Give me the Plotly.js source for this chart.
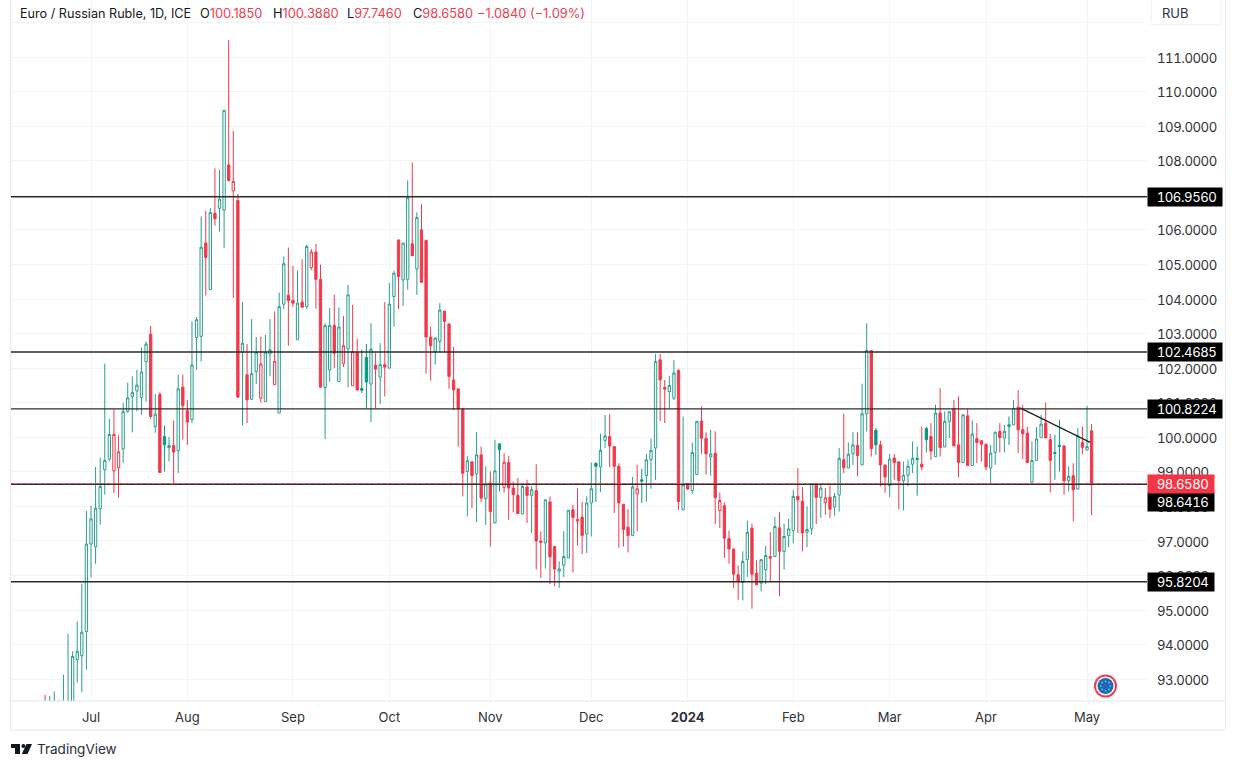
<!DOCTYPE html>
<html>
<head>
<meta charset="utf-8">
<script src="https://cdn.plot.ly/plotly-3.0.1.min.js"></script>
<style>html,body{margin:0;padding:0;background:#fff;overflow:hidden}#chart{width:1236px;height:768px}
.ytick text{font-feature-settings:"tnum" 1;letter-spacing:-0.45px}
.annotation[data-index="8"] text,.annotation[data-index="9"] text,.annotation[data-index="10"] text,.annotation[data-index="11"] text,.annotation[data-index="12"] text,.annotation[data-index="13"] text{font-feature-settings:"tnum" 1;letter-spacing:-0.45px}
</style>
</head>
<body>
<div id="chart"></div>
<script>
// r = filled red, g = hollow green, h = hollow red, f = filled green
const barStyle = ('rggggggggg'+'ggggghhggg'+'gggrgrfgrg'+'rrgggrgrgg'+'rhrgrgghgg'+'hggrrgrghr'+'rggrghghrf'+'fgrgrggrgg'+
  'rgrrrggrrr'+'rrgrgrgrgf'+'hrrrgrgrrg'+'rrgggrhrgg'+'fggrrrrrgh'+'fgggrrggrg'+'rggrrgrhrr'+'rrggrrgghg'+
  'rgggrrggrg'+'hrggrggrgg'+'rfrrgrrggg'+'frfrgrggrr'+'grgrrrggrg'+'fgrrrgggrr'+'ffrgrgrgr').split('');
const highs = [
92.55,92.52,92.65,92.40,93.13,94.32,93.81,94.67,95.76,97.87,
98.02,99.14,99.41,102.13,100.53,100.80,100.07,100.99,101.58,101.76,
101.95,102.59,102.77,103.22,101.26,101.30,100.34,100.01,100.49,101.81,
101.81,101.08,103.35,103.48,106.39,106.56,106.63,107.78,107.74,109.46,
111.49,108.86,107.04,103.91,102.70,103.42,102.90,102.91,102.96,103.42,
103.64,104.19,105.23,105.49,104.96,104.82,105.15,105.57,105.45,105.59,
104.99,103.30,103.74,104.12,103.76,103.51,104.41,103.83,102.85,102.53,
102.70,103.30,102.44,102.72,103.91,104.46,104.82,105.71,105.62,107.43,
107.95,106.51,106.75,105.72,103.20,102.90,103.88,103.65,103.28,102.61,
101.40,100.82,99.45,99.29,100.15,99.73,99.16,99.01,99.93,99.81,
99.54,99.46,98.72,98.82,98.66,98.77,98.58,99.22,97.28,98.19,
98.29,96.84,96.41,97.28,97.89,98.05,98.53,98.13,98.29,99.27,
99.27,100.10,100.65,100.67,99.73,99.25,98.06,97.92,98.85,99.20,
99.09,99.52,99.96,102.41,102.41,101.66,101.78,102.24,101.97,100.60,
98.66,99.85,100.46,100.89,100.14,100.22,100.17,98.40,98.11,97.30,
96.77,96.29,96.70,97.59,97.50,96.44,96.46,96.86,97.26,97.69,
97.83,97.50,97.64,98.48,99.11,98.56,98.00,98.66,98.65,98.65,
98.53,98.60,98.39,99.69,100.68,99.85,100.15,100.14,101.55,103.30,
102.51,100.27,99.90,99.20,99.52,99.52,99.29,99.30,99.35,99.88,
99.73,100.31,100.31,100.41,100.94,101.42,100.75,100.74,101.08,101.18,
100.65,100.82,100.49,100.41,99.90,99.80,99.78,100.15,100.41,100.36,
100.60,101.08,101.37,100.94,100.31,99.88,100.29,100.65,101.01,100.10,
100.07,100.51,99.75,99.16,99.25,100.27,100.31,100.91,100.388];
const bodyTop = [
92.30,92.25,92.30,92.30,92.30,92.30,93.66,93.81,94.36,96.91,
97.64,97.95,98.58,99.33,100.08,100.08,99.58,100.74,101.14,101.30,
101.51,101.89,102.70,102.98,100.67,101.24,100.02,99.76,99.76,101.40,
101.45,100.77,102.09,103.40,105.50,105.62,106.50,106.48,106.89,109.46,
107.88,107.40,106.85,102.72,101.81,101.84,102.46,102.12,102.46,102.53,
102.20,103.78,105.02,104.11,103.96,103.88,103.91,105.52,105.36,105.36,
104.57,103.23,103.23,103.23,103.19,102.65,104.12,102.48,102.46,101.41,
102.31,102.55,102.09,102.10,102.10,103.85,104.75,105.71,105.62,106.93,
105.60,106.36,106.00,105.69,102.90,102.87,103.68,103.65,103.28,101.66,
101.40,100.82,99.32,99.29,99.49,99.49,98.65,98.68,99.03,99.81,
99.28,99.27,98.53,98.32,98.58,98.56,98.48,98.46,97.00,98.19,
98.13,96.84,96.19,96.55,97.89,97.90,97.63,97.69,98.10,98.51,
99.25,99.62,100.04,100.02,99.73,99.16,98.06,97.40,98.56,98.51,
98.77,99.35,99.62,102.19,102.24,101.44,101.50,101.86,101.93,98.63,
98.66,99.56,100.46,100.47,99.97,99.52,99.54,98.17,98.02,97.07,
96.77,96.02,96.41,97.25,97.37,96.07,96.46,96.58,96.55,97.42,
97.38,97.13,97.35,98.29,98.29,98.15,97.33,98.66,98.65,98.53,
98.25,98.26,98.29,99.39,99.35,99.51,99.78,99.77,100.68,102.51,
102.51,100.20,99.78,99.20,99.37,99.40,99.29,98.90,99.16,99.39,
99.39,99.22,100.25,100.02,100.70,100.70,100.46,100.74,100.83,99.78,
100.65,100.62,100.09,99.96,99.90,99.80,99.54,100.15,100.17,100.17,
100.36,100.84,100.87,100.22,100.12,99.33,99.95,100.38,100.41,99.93,
99.56,99.77,99.75,98.87,98.89,100.04,99.85,99.73,100.185];
const bodyBottom = [
92.10,92.10,92.10,92.15,92.10,92.10,92.20,93.57,93.68,94.38,
96.91,96.83,97.93,99.06,99.37,99.03,99.12,99.66,100.75,101.18,
101.34,101.15,102.19,100.60,100.31,98.98,99.78,99.70,99.57,99.61,
100.91,100.44,100.51,102.89,102.92,105.20,104.27,106.32,106.62,106.57,
107.42,107.13,101.16,102.46,101.08,101.10,101.90,101.13,101.03,102.41,
101.52,100.70,103.85,103.95,103.88,102.82,103.76,103.78,104.91,104.57,
101.45,101.44,101.95,102.43,101.61,102.13,102.56,101.49,101.37,101.36,
101.60,101.54,101.97,101.74,102.03,102.00,104.07,104.65,104.55,104.57,
105.25,104.87,104.48,102.90,102.65,102.47,102.77,103.35,101.76,101.37,
100.82,98.96,99.01,98.89,98.94,98.24,98.22,97.85,97.52,99.64,
98.55,98.53,98.34,97.79,97.78,98.32,98.32,97.00,96.96,96.94,
96.54,96.19,96.13,96.30,96.51,97.68,97.57,97.16,97.20,98.10,
99.16,99.14,99.91,99.75,99.16,98.10,97.33,97.16,97.16,98.36,
98.73,98.89,99.35,99.69,101.66,101.39,101.32,101.13,98.14,97.90,
98.50,98.46,98.92,99.97,99.52,99.43,98.25,97.88,97.08,96.77,
96.04,95.81,95.80,96.46,96.04,95.73,95.78,96.17,96.50,96.55,
96.70,96.70,97.16,97.30,98.19,97.23,97.25,97.35,98.26,98.26,
98.11,97.92,97.98,98.33,99.12,99.11,99.52,99.47,99.20,100.68,
99.67,99.78,99.20,98.85,98.60,99.27,98.75,98.74,98.90,99.22,
99.36,99.14,99.93,99.60,99.44,99.70,99.72,100.46,99.75,99.27,
99.27,99.18,99.18,99.85,99.80,99.14,99.11,99.56,99.99,99.98,
100.32,100.36,100.22,100.10,99.27,98.70,99.33,99.99,99.98,99.33,
99.53,99.74,98.74,98.74,98.48,98.50,99.71,99.63,98.658];
const lows = [
92.00,92.00,92.00,92.00,92.00,92.00,92.00,92.90,92.62,93.28,
95.94,96.34,97.47,98.34,99.30,98.39,98.25,99.26,100.70,100.14,
100.75,100.65,101.03,100.53,100.13,98.98,99.01,99.30,98.66,98.96,
99.93,99.78,100.41,101.95,102.19,104.10,104.27,106.12,105.95,105.47,
107.42,104.03,101.16,100.34,100.41,101.08,101.54,101.00,101.03,101.76,
101.52,100.70,103.71,102.65,103.78,102.82,103.76,103.71,104.84,103.72,
101.45,99.95,101.60,102.00,101.61,102.03,101.45,101.49,101.35,101.28,
100.84,100.43,100.84,100.96,101.18,102.00,103.20,103.71,103.80,104.27,
105.25,104.12,104.48,101.84,101.64,102.10,102.46,102.46,101.40,100.78,
99.73,98.29,97.71,97.95,97.54,98.13,97.46,96.84,97.52,98.43,
98.40,97.61,97.83,97.79,97.78,97.52,97.23,96.17,95.93,96.20,
95.75,95.69,95.64,95.95,96.51,96.09,96.87,96.62,96.65,97.13,
98.13,98.42,99.69,99.14,97.81,96.80,96.84,96.67,97.16,97.28,
98.10,98.14,98.51,98.77,100.46,100.41,100.84,101.08,97.90,97.90,
98.50,98.37,98.92,99.52,98.92,98.89,97.49,97.37,96.51,96.34,
95.64,95.30,95.28,95.96,95.04,95.73,95.54,95.75,95.81,96.55,
95.40,96.17,96.82,96.94,97.23,96.70,96.82,97.18,97.49,97.66,
97.76,97.66,97.73,97.85,98.96,99.11,99.20,98.87,99.20,100.17,
99.44,99.49,98.58,98.39,98.27,98.77,97.92,97.88,98.58,98.96,
98.31,99.04,99.56,99.35,99.44,99.44,99.72,99.98,99.75,98.84,
99.27,99.18,99.18,99.25,99.30,99.04,98.66,99.20,99.56,99.56,
99.78,100.36,99.54,99.37,99.27,98.70,99.33,99.99,99.98,98.40,
98.77,99.01,98.34,98.43,97.57,98.50,99.51,99.63,97.746];

const monthTickBars = [0,21,44,65,87,109,130,153,174,195,217];
const monthTickLabels = ['Jul','Aug','Sep','Oct','Nov','Dec','<b>2024</b>','Feb','Mar','Apr','May'];
const priceTicks = [93,94,95,96,97,98,99,100,101,102,103,104,105,106,107,108,109,110,111,112];
const levelPrices = [106.956,102.4685,100.8224,95.8204,98.6416];
const levelLabels = ['106.9560','102.4685','100.8224','95.8204','98.6416'];
const lastPrice = 98.658;
const lastPriceLabel = '98.6580';
const trendBars = [202.4,217.7];
const trendPrices = [100.85,99.85];
const headerTitle = 'Euro / Russian Ruble, 1D, ICE';
const headerLetters = ['O','H','L','C',''];
const headerValues = ['100.1850','100.3880','97.7460','98.6580','\u22121.0840 (\u22121.09%)'];

const GREEN='#2b9e8e', GREENFILL='#089981', RED='#ee3a4c';
const FONT='Inter, "Noto Sans", sans-serif';
const INK='#2f3238';

// first plotted bar sits ten sessions before the July tick
const barNo = barStyle.map((_,i)=>i-10);
function pick(keys){
  const idx = barStyle.map((s,i)=>keys.includes(s)?i:-1).filter(i=>i>=0);
  const hollow = i=>barStyle[i]==='g'||barStyle[i]==='h';
  return {
    x: idx.map(i=>barNo[i]),
    open: idx.map(i=>hollow(i)?bodyBottom[i]:bodyTop[i]),
    close: idx.map(i=>hollow(i)?bodyTop[i]:bodyBottom[i]),
    high: idx.map(i=>highs[i]),
    low: idx.map(i=>lows[i])
  };
}
function candle(keys,col,fill){
  return Object.assign(pick(keys),{
    type:'candlestick', hoverinfo:'skip', showlegend:false, whiskerwidth:0, line:{width:1},
    increasing:{line:{color:col,width:1},fillcolor:'#ffffff'},
    decreasing:{line:{color:fill,width:1},fillcolor:fill}
  });
}
const traces=[candle(['g','f'],GREEN,GREENFILL),candle(['r','h'],RED,RED)];

// pixel helpers for the page furniture around the plot
const L=11,R=1147,B=701;
const fx=p=>(p-L)/(R-L), fy=p=>(B-p)/B;
const hline=(x0,x1,y,c,w)=>({type:'line',xref:'paper',yref:'paper',x0:fx(x0),x1:fx(x1),y0:fy(y),y1:fy(y),line:{color:c,width:w}});
const vline=(x,y0,y1,c,w)=>({type:'line',xref:'paper',yref:'paper',x0:fx(x),x1:fx(x),y0:fy(y0),y1:fy(y1),line:{color:c,width:w}});
const circle=(cx,cy,r,c)=>({type:'circle',xref:'paper',yref:'paper',x0:fx(cx-r),x1:fx(cx+r),y0:fy(cy+r),y1:fy(cy-r),fillcolor:c,line:{width:0}});
const poly=(pts,c)=>({type:'path',xref:'paper',yref:'paper',path:'M'+pts.map(p=>fx(p[0])+','+fy(p[1])).join('L')+'Z',fillcolor:c,line:{width:0}});

const shapes=[
  vline(10.5,0,730,'#e6e8ee',1), vline(1225.5,0,730,'#eceef2',1),
  hline(11,1225,701,'#e0e3eb',1), hline(11,1225,730,'#e6e8ee',1),
  {type:'rect',xref:'paper',yref:'paper',x0:fx(1151),x1:fx(1221),y0:fy(25),y1:fy(-2),line:{color:'#eef0f3',width:1},fillcolor:'#fff'},
];
levelPrices.forEach(p=>shapes.push({type:'line',xref:'paper',yref:'y',x0:0,x1:1,y0:p,y1:p,line:{color:'#2c2c2c',width:1.4}}));
shapes.push({type:'line',xref:'paper',yref:'y',x0:0,x1:1,y0:lastPrice,y1:lastPrice,line:{color:RED,width:1,dash:'dot'}});
shapes.push({type:'line',xref:'x',yref:'y',x0:trendBars[0],x1:trendBars[1],y0:trendPrices[0],y1:trendPrices[1],line:{color:'#222',width:1.3}});
// EUR badge
shapes.push(circle(1105.5,686,11.5,'#e8404f'),circle(1105.5,686,9.5,'#ffffff'),circle(1105.5,686,8,'#1c69b4'));
for(let k=0;k<8;k++){const a=k*Math.PI/4;shapes.push(circle(1105.5+4.8*Math.cos(a),686+4.8*Math.sin(a),0.8,'#9ec5e6'));}
// TradingView logo
shapes.push(poly([[11,744],[20,744],[20,754],[15,754],[15,748],[11,748]],'#131722'),
  circle(23.4,746,2,'#131722'),
  poly([[26.5,744],[32,744],[27.5,754],[21.8,754]],'#131722'));

const annotations=[];
const pageText=(x,y,text,size,color,extra)=>annotations.push(Object.assign({xref:'paper',yref:'paper',x:fx(x),y:fy(y),xanchor:'left',yanchor:'middle',showarrow:false,text,font:{family:FONT,size,color},borderpad:0},extra||{}));
pageText(19,13,headerTitle,12.65,'#131722');
const headerX=[199,272,346,412,476];
headerValues.forEach((v,i)=>pageText(headerX[i],13,(headerLetters[i]?headerLetters[i]:'')+'<span style="color:#e8404f">'+v+'</span>',12.8,'#131722'));
pageText(1161,13,'RUB',13,INK);
pageText(36,749,'TradingView',13.5,'#2a2e39');
const labelWidths=[74,74,74,66,66];
const labelShift=[0,0,0,0,-18];
levelPrices.forEach((p,i)=>annotations.push({xref:'paper',yref:'y',x:1,y:p,xanchor:'left',yanchor:'middle',yshift:labelShift[i],showarrow:false,
  text:'\u00a0'+levelLabels[i],width:labelWidths[i],height:18,align:'center',bgcolor:'#000',borderpad:0,font:{family:FONT,size:13.2,color:'#fff'}}));
annotations.push({xref:'paper',yref:'y',x:1,y:lastPrice,xanchor:'left',yanchor:'middle',showarrow:false,text:'\u00a0'+lastPriceLabel,width:66,height:18,align:'center',bgcolor:'#f23645',borderpad:0,font:{family:FONT,size:13.2,color:'#fff'}});

const layout={
  width:1236,height:768,autosize:false,paper_bgcolor:'#fff',plot_bgcolor:'#fff',showlegend:false,
  margin:{l:L,r:1236-R,t:0,b:768-B,pad:0},
  boxgap:0.28,
  font:{family:FONT,size:13,color:INK},
  xaxis:{type:'linear',range:[-17.43,230.07],tickmode:'array',tickvals:monthTickBars,ticktext:monthTickLabels,
    showgrid:true,gridcolor:'#f3f4f6',gridwidth:1,zeroline:false,showline:false,ticks:'',ticklabelstandoff:7,
    tickfont:{family:FONT,size:13,color:INK},rangeslider:{visible:false},fixedrange:true},
  yaxis:{side:'right',type:'linear',range:[92.37,112.65],tickmode:'array',tickvals:priceTicks,
    ticktext:priceTicks.map(v=>v===112?'':v.toFixed(4)),showgrid:true,gridcolor:'#f3f4f6',gridwidth:1,zeroline:false,showline:false,ticks:'',
    ticklabelstandoff:9,ticklabelshift:1,tickfont:{family:FONT,size:13.2,color:INK},fixedrange:true},
  shapes,annotations
};
Plotly.newPlot('chart',traces,layout,{staticPlot:true,displayModeBar:false});
</script>
</body>
</html>
